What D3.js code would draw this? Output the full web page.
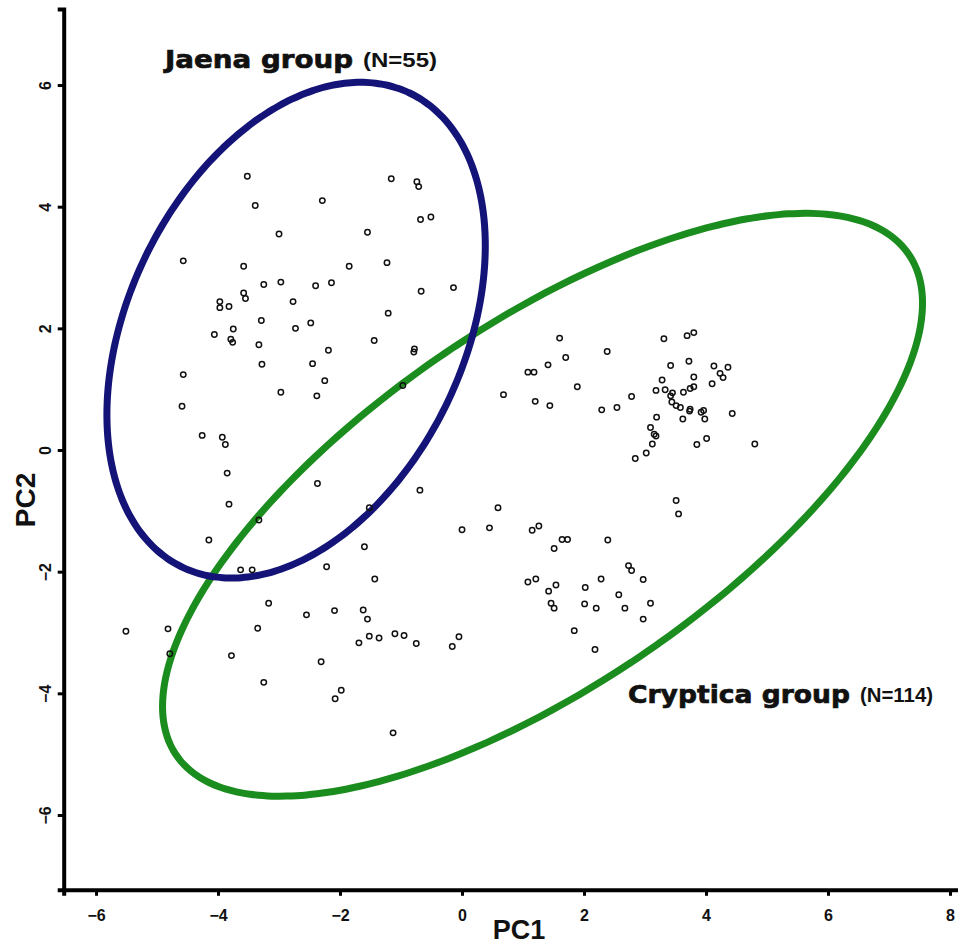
<!DOCTYPE html>
<html>
<head>
<meta charset="utf-8">
<script src="https://cdn.jsdelivr.net/npm/d3@7/dist/d3.min.js"></script>
<style>
  html, body { margin: 0; padding: 0; background: #fff; }
  svg { display: block; overflow: hidden; }
</style>
</head>
<body>
<svg id="chart" width="958" height="947"></svg>
<script>
// PCA scores (PC1, PC2)
const pc1Values = [
  -3.52, -3.39, -2.29, -1.16, -0.74, -0.71, -0.68, -0.51, -3.00, -1.55,
  -4.57, -3.58, -1.85, -1.23, -3.25, -2.97, -2.40, -2.14, -0.67, -0.14,
  -3.58, -3.55, -3.97, -3.97, -3.82, -2.77, -3.29, -2.73, -2.48, -1.21,
  -4.06, -3.75, -3.79, -3.76, -3.33, -2.19, -1.44, -0.78, -0.79, -3.28,
  -2.45, -2.25, -2.97, -2.38, -4.57, -4.59, -0.97, -4.26, -3.93, -3.88,
  -3.85, -3.82, -3.33, -4.15, -2.37, -0.69, -1.52, 0.59, 0.00, 0.45,
  -1.60, -2.22, -1.43, -3.63, -3.44, -3.17, -2.55, -2.09, -1.62, -1.55,
  -5.51, -4.82, -4.79, -3.35, -3.78, -1.69, -1.52, -1.36, -1.10, -0.95,
  -0.75, -0.16, -0.05, -2.31, -3.25, -1.98, -2.08, -1.13,
  1.60, 3.31, 3.69, 3.80, 2.38, 1.70, 1.41, 1.08, 1.18, 3.42,
  3.72, 4.13, 4.36, 4.23, 4.28, 3.80, 3.28, 1.89, 4.10, 3.18,
  3.33, 3.45, 3.42, 3.63, 3.74, 3.80, 0.68, 1.20, 1.44, 2.78,
  2.29, 2.54, 3.44, 3.51, 3.58, 3.73, 3.74, 3.92, 3.96, 3.98,
  3.62, 3.19, 4.43, 3.09, 3.15, 3.18, 3.12, 3.02, 2.84, 3.85,
  4.01, 4.80,
  1.15, 1.26, 1.64, 1.73, 1.51, 2.39, 3.51, 3.55, 2.73, 2.78,
  2.97, 2.28, 1.08, 1.21, 1.42, 1.54, 2.02, 1.46, 1.51, 2.01,
  2.20, 2.57, 2.67, 3.09, 2.97, 1.84, 2.18
];
const pc2Values = [
  4.50, 4.02, 4.10, 4.46, 4.41, 4.33, 3.79, 3.83, 3.55, 3.58,
  3.11, 3.02, 3.02, 3.08, 2.72, 2.76, 2.70, 2.75, 2.61, 2.67,
  2.58, 2.49, 2.44, 2.34, 2.36, 2.44, 2.13, 2.00, 2.09, 2.25,
  1.90, 1.99, 1.82, 1.77, 1.73, 1.64, 1.80, 1.66, 1.61, 1.41,
  1.42, 1.14, 0.95, 0.89, 1.24, 0.72, 1.06, 0.24, 0.21, 0.09,
  -0.38, -0.89, -1.15, -1.48, -0.55, -0.66, -0.95, -0.95, -1.31, -1.28,
  -1.59, -1.92, -2.12, -1.97, -1.97, -2.52, -2.71, -2.64, -2.63, -2.78,
  -2.98, -2.94, -3.35, -2.93, -3.38, -3.17, -3.06, -3.09, -3.02, -3.05,
  -3.18, -3.23, -3.07, -3.48, -3.82, -3.95, -4.09, -4.65,
  1.84, 1.83, 1.88, 1.93, 1.62, 1.52, 1.40, 1.28, 1.28, 1.39,
  1.46, 1.38, 1.36, 1.26, 1.19, 1.20, 1.15, 1.04, 1.09, 0.98,
  0.99, 0.94, 0.89, 0.95, 1.01, 1.04, 0.91, 0.80, 0.73, 0.88,
  0.66, 0.70, 0.79, 0.73, 0.70, 0.64, 0.67, 0.62, 0.65, 0.51,
  0.51, 0.54, 0.60, 0.37, 0.26, 0.23, 0.10, -0.05, -0.14, 0.09,
  0.19, 0.10,
  -1.32, -1.25, -1.47, -1.47, -1.62, -1.48, -0.83, -1.05, -1.90, -1.98,
  -2.13, -2.12, -2.17, -2.12, -2.32, -2.22, -2.26, -2.52, -2.60, -2.53,
  -2.60, -2.38, -2.60, -2.52, -2.78, -2.97, -3.28
];

// group ellipses (centre, semi-axes in PC units, tilt in degrees)
const groupNames = ['Jaena group', 'Cryptica group'];
const groupCounts = ['(N=55)', '(N=114)'];
const groupColors = ['#141478', '#1b8c1e'];
const ellipseCx = [-2.72, 1.32];
const ellipseCy = [1.97, -0.90];
const ellipseA = [4.32, 7.28];
const ellipseB = [2.75, 2.96];
const ellipseAngle = [64.5, 34.5];

const xTicks = [-6, -4, -2, 0, 2, 4, 6, 8];
const yTicks = [-6, -4, -2, 0, 2, 4, 6];

const svg = d3.select('#chart');

const x = d3.scaleLinear().domain([-6.53, 8.4]).range([63.7, 974.4]);
const y = d3.scaleLinear().domain([-7.23, 7.25]).range([889.8, 9]);

const tickFont = '"Liberation Sans Narrow", "Arial Narrow", "Liberation Sans", sans-serif';

// ellipses
const ellipsePath = i => {
  const phi = ellipseAngle[i] * Math.PI / 180;
  const pts = d3.range(0, 360, 2).map(deg => {
    const t = deg * Math.PI / 180;
    const u = ellipseA[i] * Math.cos(t);
    const v = ellipseB[i] * Math.sin(t);
    return [
      ellipseCx[i] + u * Math.cos(phi) - v * Math.sin(phi),
      ellipseCy[i] + u * Math.sin(phi) + v * Math.cos(phi)
    ];
  });
  return d3.line()
    .x(d => x(d[0]))
    .y(d => y(d[1]))
    .curve(d3.curveCardinalClosed)(pts);
};

svg.append('g')
  .selectAll('path')
  .data(groupNames.map((_, i) => i).reverse())
  .join('path')
  .attr('d', ellipsePath)
  .attr('fill', 'none')
  .attr('stroke', i => groupColors[i])
  .attr('stroke-width', 7);

// points
svg.append('g')
  .selectAll('circle')
  .data(pc1Values.map((v, i) => [v, pc2Values[i]]))
  .join('circle')
  .attr('cx', d => x(d[0]))
  .attr('cy', d => y(d[1]))
  .attr('r', 2.7)
  .attr('fill', 'none')
  .attr('stroke', '#111')
  .attr('stroke-width', 1.5);

// axes
const $xAxis = svg.append('g')
  .attr('transform', `translate(0,${y(-7.23)})`)
  .call(d3.axisBottom(x).tickValues(xTicks).tickSizeOuter(0).tickSize(6).tickPadding(12));

const $yAxis = svg.append('g')
  .attr('transform', `translate(${x(-6.53)},0)`)
  .call(d3.axisLeft(y).tickValues(yTicks).tickSizeOuter(0).tickSize(6));

[$xAxis, $yAxis].forEach($a => {
  $a.select('.domain').attr('stroke', '#000').attr('stroke-width', 4);
  $a.selectAll('.tick line').attr('stroke', '#000').attr('stroke-width', 3);
  $a.selectAll('.tick text')
    .attr('fill', '#111')
    .attr('font-family', tickFont)
    .attr('font-weight', 'bold')
    .attr('font-size', 16);
});

$xAxis.selectAll('.tick text').attr('dy', '0.85em');

$yAxis.selectAll('.tick text')
  .attr('x', null)
  .attr('dy', null)
  .attr('text-anchor', 'middle')
  .attr('transform', 'translate(-13,0) rotate(-90)');

// axis titles
svg.append('text')
  .attr('x', 519)
  .attr('y', 939)
  .attr('text-anchor', 'middle')
  .attr('font-family', '"Liberation Sans", Arial, sans-serif')
  .attr('font-weight', 'bold')
  .attr('font-size', 27)
  .attr('fill', '#111')
  .text('PC1');

svg.append('text')
  .attr('transform', 'translate(35,500) rotate(-90)')
  .attr('text-anchor', 'middle')
  .attr('font-family', '"Liberation Sans", Arial, sans-serif')
  .attr('font-weight', 'bold')
  .attr('font-size', 28)
  .attr('fill', '#111')
  .text('PC2');

// group labels
const labelPos = [
  { x: 165, y: 68, w: 188, nx: 363, nw: 74 },
  { x: 628, y: 703, w: 222, nx: 860, nw: 73 }
];

groupNames.forEach((name, i) => {
  const p = labelPos[i];
  svg.append('text')
    .attr('x', p.x)
    .attr('y', p.y)
    .attr('font-family', '"DejaVu Sans", sans-serif')
    .attr('font-weight', 'bold')
    .attr('font-size', 25)
    .attr('fill', '#111')
    .attr('stroke', '#111')
    .attr('stroke-width', 0.7)
    .attr('textLength', p.w)
    .attr('lengthAdjust', 'spacingAndGlyphs')
    .text(name);
  svg.append('text')
    .attr('x', p.nx)
    .attr('y', p.y - 1)
    .attr('font-family', tickFont)
    .attr('font-weight', 'bold')
    .attr('font-size', 21)
    .attr('fill', '#111')
    .attr('textLength', p.nw)
    .attr('lengthAdjust', 'spacingAndGlyphs')
    .text(groupCounts[i]);
});
</script>
</body>
</html>
